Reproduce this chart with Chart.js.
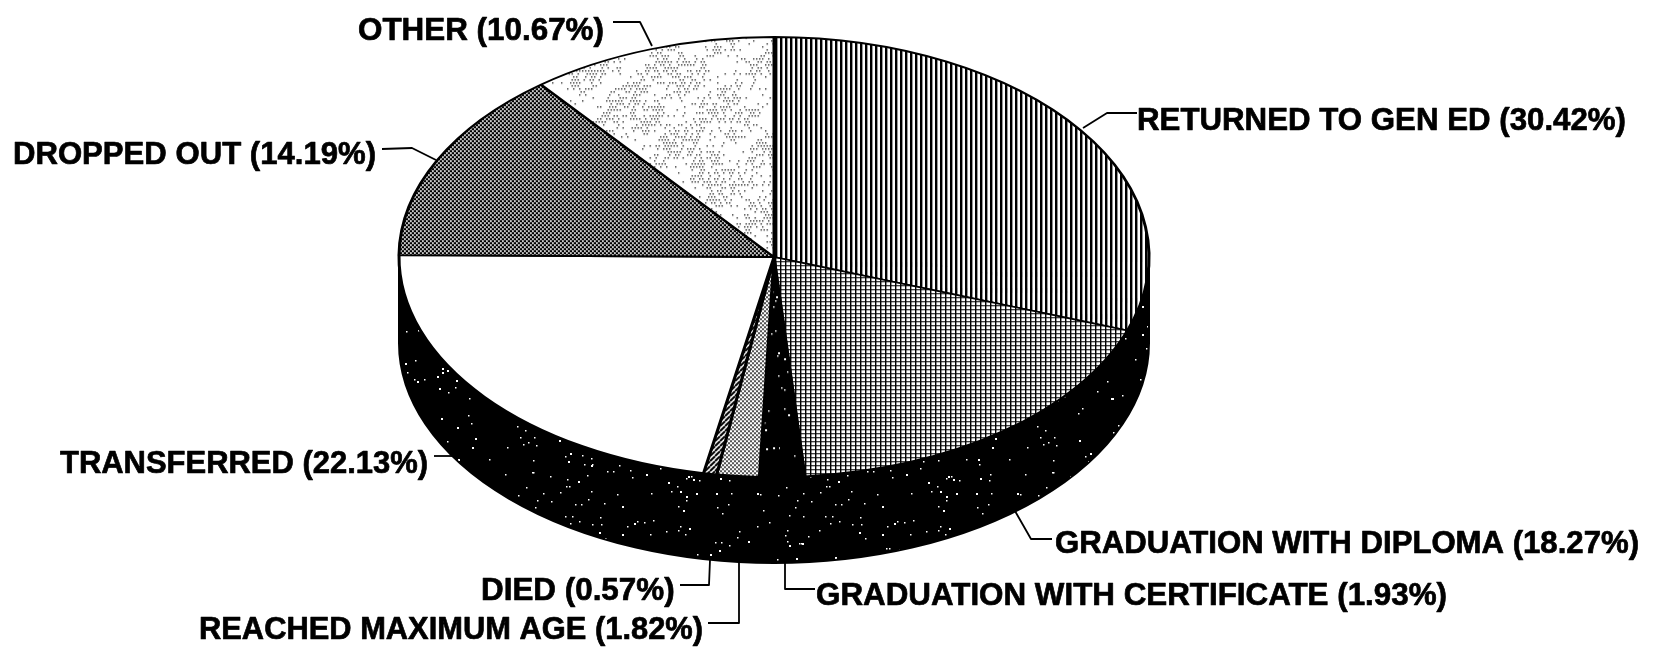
<!DOCTYPE html>
<html>
<head>
<meta charset="utf-8">
<style>html,body{margin:0;padding:0;background:#fff}canvas{display:block}</style>
<script src="https://cdn.jsdelivr.net/npm/chart.js@4"></script>
</head>
<body>
<canvas id="c" width="1658" height="647"></canvas>
<script>
const categories = ["RETURNED TO GEN ED","GRADUATION WITH DIPLOMA","GRADUATION WITH CERTIFICATE","REACHED MAXIMUM AGE","DIED","TRANSFERRED","DROPPED OUT","OTHER"];
const values = [30.42,18.27,1.93,1.82,0.57,22.13,14.19,10.67];
// annotation layout: text left edge, right edge, baseline, leader polyline
const labelBoxes = [
 [1137,1626,130],[1055,1639,553],[816,1447,605],[199,703,639],[481,677,600],[60,428,473],[13,376,164],[358,606,40]
];
const leaders = [
 [[1137,113],[1107,113],[1083,128]],
 [[1052,539],[1031,539],[1015,511]],
 [[815,589],[785,589],[785,563]],
 [[708,623],[739,623],[739,561]],
 [[680,585],[709,585],[710,560]],
 [[434,456],[456,456]],
 [[382,149],[412,148],[436,160]],
 [[613,22],[640,22],[652,46]]
];
const K = 220/375, RX = 375, DEPTH = 86;

function tile(w,h,draw){const c=document.createElement('canvas');c.width=w;c.height=h;const g=c.getContext('2d');draw(g,w,h);return c;}
function pat(t,comp){const p=document.createElement('canvas').getContext('2d').createPattern(t,'repeat');
  if(comp)p.setTransform(new DOMMatrix().scale(1,1/K));return p;}
function lcg(seed){let s=seed>>>0;return ()=>{s=(Math.imul(s,1664525)+1013904223)>>>0;return s/4294967296;};}
function speckle(seed,n){return tile(260,200,(g,w,h)=>{g.fillStyle='#000';g.fillRect(0,0,w,h);g.fillStyle='#fff';const r=lcg(seed);
  for(let i=0;i<n;i++){const x=r()*w|0,y=r()*h|0;const s=r()<.3?2:1.5;g.fillRect(x,y,s,s);}});}

const stripes = tile(5,4,(g)=>{g.fillStyle='#fff';g.fillRect(0,0,5,4);g.fillStyle='#000';g.fillRect(0,0,2.4,4);});
const grid = tile(5,4,(g)=>{g.fillStyle='#000';g.fillRect(0,0,5,4);g.fillStyle='#fff';g.fillRect(1.4,0,3.6,3);});
const halftone = tile(4,4,(g)=>{g.fillStyle='#fff';g.fillRect(0,0,4,4);g.fillStyle='#555';g.fillRect(0,0,2,2);g.fillRect(2,2,2,2);});
const hatch = tile(5,5,(g)=>{g.fillStyle='#fff';g.fillRect(0,0,5,5);g.strokeStyle='#000';g.lineWidth=2;
  for(let i=-5;i<=10;i+=5){g.beginPath();g.moveTo(i,5);g.lineTo(i+5,0);g.stroke();}});
const checker = tile(4,4,(g)=>{g.fillStyle='#000';g.fillRect(0,0,4,4);g.fillStyle='#eee';g.fillRect(0,0,1.8,1.8);g.fillRect(2,2,1.8,1.8);});
const clumps = tile(300,300,(g,w,h)=>{g.fillStyle='#fff';g.fillRect(0,0,w,h);g.fillStyle='#333';
  for(let y=0;y<h;y+=3)for(let x=(y/3%2)*1.5;x<w;x+=3){
    const n=Math.sin(x*2*Math.PI/100)*Math.cos(y*2*Math.PI/75)+Math.sin((x+y)*2*Math.PI/50)*.6+Math.sin((x-y)*2*Math.PI/300)*.5;
    const frac=Math.sin(x*12.9898+y*78.233)*43758.5453;
    const p=n>.1?.55:.12;
    if((frac-Math.floor(frac))<p)g.fillRect(x,y,1.4,1.4);
  }});
const fills = [pat(stripes,true),pat(grid,true),pat(speckle(7,200),true),pat(halftone,true),pat(hatch,true),'#ffffff',pat(checker,true),pat(clumps,true)];
const sideFill = pat(speckle(11,200),false);

const pieLook = {
  id:'pieLook',
  beforeDatasetsDraw(chart){
    const a=chart.getDatasetMeta(0).data[0],ctx=chart.ctx,cx=a.x,cy=a.y,rx=a.outerRadius,ry=rx*K;
    ctx.save();
    ctx.beginPath();
    ctx.ellipse(cx,cy,rx,ry,0,0,Math.PI);
    ctx.lineTo(cx-rx,cy+DEPTH);
    ctx.ellipse(cx,cy+DEPTH,rx,ry,0,Math.PI,0,true);
    ctx.closePath();
    ctx.fillStyle=sideFill;ctx.fill();
    ctx.strokeStyle='#000';ctx.lineWidth=2;ctx.stroke();
    ctx.restore();
    ctx.save();
    ctx.translate(cx,cy);ctx.scale(1,K);ctx.translate(-cx,-cy);
  },
  afterDatasetsDraw(chart){
    const ctx=chart.ctx;
    ctx.restore();
    ctx.save();
    ctx.strokeStyle='#000';ctx.lineWidth=1.8;ctx.lineJoin='round';
    leaders.forEach(l=>{ctx.beginPath();l.forEach((p,i)=>i?ctx.lineTo(p[0],p[1]):ctx.moveTo(p[0],p[1]));ctx.stroke();});
    ctx.fillStyle='#000';ctx.strokeStyle='#000';ctx.lineWidth=.7;ctx.textBaseline='alphabetic';
    ctx.font='bold 31.4px "Liberation Sans", Arial, sans-serif';
    categories.forEach((c,i)=>{
      const t=`${c} (${values[i].toFixed(2)}%)`,b=labelBoxes[i];
      ctx.fillText(t,b[0],b[2],b[1]-b[0]);
      ctx.strokeText(t,b[0],b[2],b[1]-b[0]);
    });
    ctx.restore();
  }
};

new Chart(document.getElementById('c'),{
  type:'pie',
  data:{labels:categories,datasets:[{data:values,backgroundColor:fills,borderColor:'#000',borderWidth:3,radius:RX,clip:false,hoverOffset:0}]},
  options:{
    responsive:false,animation:false,events:[],
    layout:{padding:{left:0,top:0,right:110,bottom:133}},
    plugins:{legend:{display:false},tooltip:{enabled:false},title:{display:false}}
  },
  plugins:[pieLook]
});
</script>
</body>
</html>
